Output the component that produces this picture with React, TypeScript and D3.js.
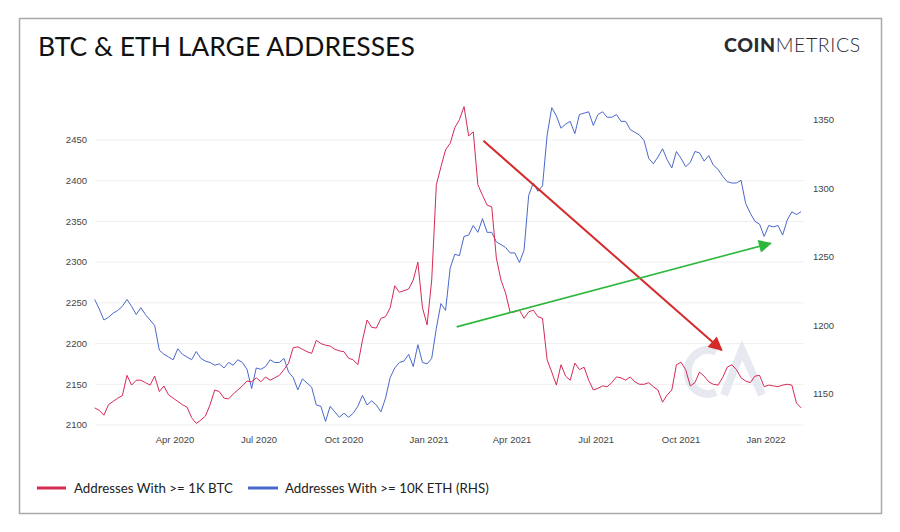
import React from 'react';
import * as d3 from 'd3';

// 5-day samples starting 2020-01-05
const startDate = new Date(2020, 0, 5);
const stepDays = 5;

const btcLarge = [
  2121, 2118, 2112, 2125, 2129, 2133, 2136, 2161, 2149, 2155,
  2155, 2152, 2149, 2160, 2141, 2148, 2137, 2133, 2129, 2125,
  2122, 2109, 2102, 2106, 2111, 2125, 2143, 2141, 2133, 2132,
  2138, 2143, 2148, 2154, 2153, 2158, 2153, 2159, 2155, 2158,
  2161, 2168, 2176, 2195, 2196, 2193, 2190, 2188, 2204, 2200,
  2198, 2197, 2193, 2191, 2190, 2182, 2180, 2174, 2204, 2229,
  2220, 2219, 2231, 2233, 2244, 2271, 2263, 2265, 2267, 2278,
  2300, 2244, 2223, 2278, 2395, 2417, 2438, 2446, 2465, 2475,
  2491, 2455, 2460, 2395, 2382, 2370, 2368, 2305, 2278, 2262,
  2238, 2239, 2241, 2231, 2239, 2241, 2233, 2231, 2180, 2165,
  2149, 2174, 2160, 2155, 2176, 2168, 2171, 2155, 2143, 2145,
  2148, 2147, 2152, 2159, 2158, 2155, 2159, 2153, 2150, 2150,
  2152, 2147, 2143, 2128, 2137, 2143, 2174, 2177, 2168, 2148,
  2152, 2165, 2160, 2153, 2150, 2149, 2158, 2171, 2174, 2168,
  2158, 2154, 2152, 2160, 2161, 2147, 2149, 2148, 2147, 2149,
  2150, 2149, 2127, 2121,
];

const ethLarge = [
  1219, 1212, 1204, 1206, 1209, 1211, 1214, 1219, 1214, 1208,
  1213, 1208, 1204, 1200, 1182, 1179, 1177, 1175, 1183, 1179,
  1177, 1175, 1181, 1176, 1174, 1173, 1171, 1172, 1169, 1173,
  1171, 1175, 1173, 1168, 1154, 1169, 1168, 1170, 1175, 1173,
  1173, 1176, 1166, 1162, 1153, 1161, 1158, 1155, 1142, 1141,
  1130, 1141, 1137, 1133, 1136, 1133, 1136, 1141, 1149, 1142,
  1145, 1142, 1137, 1147, 1162, 1169, 1173, 1174, 1179, 1170,
  1186, 1173, 1172, 1176, 1198, 1216, 1211, 1242, 1252, 1251,
  1265, 1266, 1273, 1268, 1278, 1268, 1268, 1261, 1259, 1257,
  1253, 1253, 1246, 1255, 1295, 1304, 1298, 1302, 1339, 1359,
  1353, 1344, 1347, 1349, 1340, 1354, 1355, 1356, 1346, 1354,
  1356, 1352, 1352, 1354, 1349, 1349, 1343, 1341, 1339, 1335,
  1322, 1318, 1323, 1329, 1321, 1315, 1327, 1322, 1316, 1319,
  1327, 1326, 1320, 1324, 1317, 1314, 1309, 1305, 1304, 1304,
  1306, 1289, 1282, 1276, 1274, 1265, 1273, 1272, 1273, 1266,
  1277, 1283, 1281, 1283,
];

const leftTicks = [2100, 2150, 2200, 2250, 2300, 2350, 2400, 2450];
const rightTicks = [1150, 1200, 1250, 1300, 1350];
const xTicks = [
  new Date(2020, 3, 1), new Date(2020, 6, 1), new Date(2020, 9, 1), new Date(2021, 0, 1),
  new Date(2021, 3, 1), new Date(2021, 6, 1), new Date(2021, 9, 1), new Date(2022, 0, 1),
];

const seriesNames = ['Addresses With >= 1K BTC', 'Addresses With >= 10K ETH (RHS)'];
const RED = '#d62a55';
const BLUE = '#4a68cc';

// annotation arrows, in data units
const redArrow = { from: [new Date(2021, 2, 1), 2449], to: [new Date(2021, 10, 14), 2192] } as const;
const greenArrow = { from: [new Date(2021, 0, 31), 1199], to: [new Date(2022, 0, 6), 1260] } as const;

export default function App() {
  const W = 900;
  const H = 532;
  const plotL = 96;
  const plotR = 804;

  const x = d3.scaleTime().domain([new Date(2020, 3, 1), new Date(2022, 0, 1)]).range([175, 766]);
  const yL = d3.scaleLinear().domain([2100, 2450]).range([425, 140]);
  const yR = d3.scaleLinear().domain([1150, 1350]).range([394, 120]);

  const dates = btcLarge.map((_, i) => d3.timeDay.offset(startDate, i * stepDays));

  const btcLine = d3.line<number>().x((_, i) => x(dates[i])).y(d => yL(d));
  const ethLine = d3.line<number>().x((_, i) => x(dates[i])).y(d => yR(d));
  const fmt = d3.timeFormat('%b %Y');

  const axisFont = '"Liberation Sans", Arial, sans-serif';

  return (
    <svg width={W} height={H} style={{ position: 'absolute', left: 0, top: 0, background: '#fff' }}
      fontFamily={axisFont}>
      <defs>
        <marker id="headRed" viewBox="0 0 10 10" refX="9" refY="5" markerWidth="16" markerHeight="14"
          markerUnits="userSpaceOnUse" orient="auto">
          <path d="M0,0 L10,5 L0,10 Z" fill="#d42a2a" />
        </marker>
        <marker id="headGreen" viewBox="0 0 10 10" refX="9" refY="5" markerWidth="16" markerHeight="13"
          markerUnits="userSpaceOnUse" orient="auto">
          <path d="M0,0 L10,5 L0,10 Z" fill="#2db83d" />
        </marker>
      </defs>
      <rect x={0} y={0} width={W} height={H} fill="#fff" />
      <rect x={19.5} y={18.5} width={862} height={495} fill="#fff" stroke="#a9a9a9" strokeWidth={1.5} />

      <text x={38} y={56} fontFamily="Lato, sans-serif" fontSize={26.5} fill="#111">
        BTC &amp; ETH LARGE ADDRESSES
      </text>
      <text x={724} y={52} fontFamily="Lato, sans-serif" fontSize={19.5} fill="#2a2a33" letterSpacing={0.6}>
        <tspan fontWeight={900}>COIN</tspan>
        <tspan fontWeight={300}>METRICS</tspan>
      </text>

      {leftTicks.map(t => (
        <g key={'l' + t}>
          <line x1={plotL} x2={plotR} y1={yL(t)} y2={yL(t)} stroke="#efefef" strokeWidth={1} />
          <text x={87} y={yL(t)} dy="0.35em" textAnchor="end" fontSize={9.5} fill="#444">{t}</text>
        </g>
      ))}
      {rightTicks.map(t => (
        <text key={'r' + t} x={813} y={yR(t)} dy="0.35em" fontSize={9.5} fill="#444">{t}</text>
      ))}
      {xTicks.map(t => (
        <text key={+t} x={x(t)} y={440} dy="0.35em" textAnchor="middle" fontSize={9.5} fill="#444">{fmt(t)}</text>
      ))}

      {/* watermark */}
      <g stroke="#e2e6ee" strokeWidth={8} fill="none" opacity={0.85}>
        <path d="M716,352 A20,22 0 1 0 716,392" />
        <path d="M724,395 L742,350 L762,395" />
      </g>

      <path d={ethLine(ethLarge) ?? ''} fill="none" stroke={BLUE} strokeWidth={1} strokeLinejoin="round" />
      <path d={btcLine(btcLarge) ?? ''} fill="none" stroke={RED} strokeWidth={1} strokeLinejoin="round" />

      <line x1={x(redArrow.from[0])} y1={yL(redArrow.from[1])} x2={x(redArrow.to[0])} y2={yL(redArrow.to[1])}
        stroke="#d42a2a" strokeWidth={2} markerEnd="url(#headRed)" />
      <line x1={x(greenArrow.from[0])} y1={yR(greenArrow.from[1])} x2={x(greenArrow.to[0])} y2={yR(greenArrow.to[1])}
        stroke="#2db83d" strokeWidth={1.6} markerEnd="url(#headGreen)" />

      <g fontFamily="Lato, sans-serif" fontSize={13.3} fill="#222">
        <line x1={37} x2={66} y1={488} y2={488} stroke={RED} strokeWidth={3} />
        <text x={74} y={488} dy="0.35em">{seriesNames[0]}</text>
        <line x1={248} x2={278} y1={488} y2={488} stroke={BLUE} strokeWidth={3} />
        <text x={285} y={488} dy="0.35em">{seriesNames[1]}</text>
      </g>
    </svg>
  );
}
